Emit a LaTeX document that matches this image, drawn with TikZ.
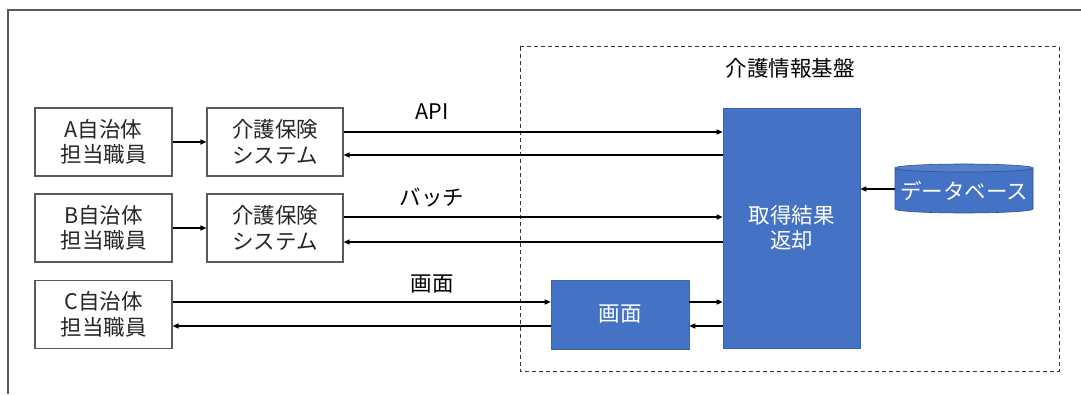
\documentclass[tikz,border=0pt]{standalone}
\usepackage{fontspec}
\setmainfont{Noto Sans CJK JP}
\usetikzlibrary{arrows.meta}
\definecolor{bblue}{HTML}{4472C4}
\definecolor{bedge}{HTML}{3A66B4}
\definecolor{dbedge}{HTML}{2F528F}
\definecolor{dbtop}{HTML}{5580CC}
\definecolor{framegray}{HTML}{595959}
\definecolor{txt}{HTML}{262626}
\begin{document}
\begin{tikzpicture}[x=1pt,y=1pt,
  font=\fontsize{21.5}{25.5}\selectfont,
  wbox/.style={draw=framegray, line width=1.1pt, fill=white, text=txt, align=center, minimum width=137, minimum height=68, inner sep=0},
  bbox/.style={draw=bedge, line width=0.6pt, fill=bblue, text=white, align=center, inner sep=0},
  arr/.style={line width=1.2pt, -{Triangle[length=6pt,width=5pt]}},
  lbl/.style={text=black, inner sep=0}
]
\useasboundingbox (0,0) rectangle (1081,394);
% outer frame
\draw[framegray, line width=1.2pt] (1081,384) -- (8,384) -- (8,0);
% dashed region
\draw[black!80, line width=1pt, dash pattern=on 4pt off 3pt] (520,347) rectangle (1059,23);
\node[lbl] (kiban) at (790,326) {介護情報基盤};
% left boxes
\node[wbox] (a) at (103.5,252) {A自治体\\担当職員};
\node[wbox] (b) at (103.5,166) {B自治体\\担当職員};
\node[wbox] (c) at (103.5,79.5) {C自治体\\担当職員};
\node[wbox, minimum width=136] (s1) at (275,252) {介護保険\\システム};
\node[wbox, minimum width=136] (s2) at (275,166) {介護保険\\システム};
% blue boxes
\node[bbox, minimum width=137, minimum height=240] (big) at (791.5,166) {取得結果\\返却};
\node[bbox, minimum width=138, minimum height=69] (gamen) at (620,79.5) {画面};
% database cylinder
\node[inner sep=0, minimum width=138, minimum height=48] (db) at (964,205) {};
\path[fill=bblue, draw=dbedge, line width=0.6pt] (895,226) -- (895,185) arc[start angle=180, end angle=360, x radius=69, y radius=4] -- (1033,226) -- cycle;
\path[fill=dbtop, draw=dbedge, line width=0.6pt] (964,226) ellipse[x radius=69, y radius=4];
\node[text=white, inner sep=0] (dbtext) at (964,203) {データベース};
% labels
\node[lbl] (lapi) at (432,282) {API};
\node[lbl] (lbatch) at (432,196) {バッチ};
\node[lbl] (lgamen) at (432,110) {画面};
% arrows
\draw[arr] (a.east) -- (s1.west);
\draw[arr] (b.east) -- (s2.west);
\draw[arr] (s1.east |- 0,262) -- (big.west |- 0,262);
\draw[arr] (big.west |- 0,239) -- (s1.east |- 0,239);
\draw[arr] (s2.east |- 0,177) -- (big.west |- 0,177);
\draw[arr] (big.west |- 0,152) -- (s2.east |- 0,152);
\draw[arr] (c.east |- 0,92) -- (gamen.west |- 0,92);
\draw[arr] (gamen.west |- 0,68) -- (c.east |- 0,68);
\draw[arr] (gamen.east |- 0,92) -- (big.west |- 0,92);
\draw[arr] (big.west |- 0,68) -- (gamen.east |- 0,68);
\draw[arr] (db.west |- 0,205) -- (big.east |- 0,205);
\end{tikzpicture}
\end{document}
